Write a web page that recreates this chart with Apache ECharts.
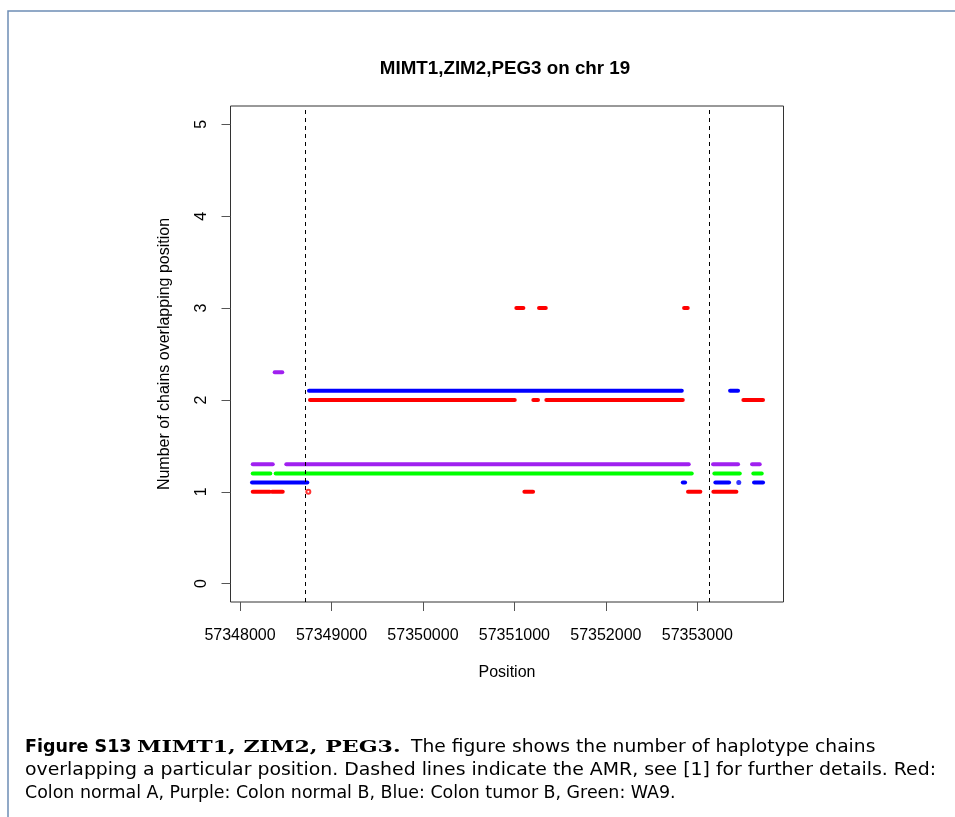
<!DOCTYPE html>
<html>
<head>
<meta charset="utf-8">
<script src="https://cdn.jsdelivr.net/npm/echarts@6/dist/echarts.min.js"></script>
<style>
  html, body { margin: 0; padding: 0; background: #fff; }
  #chart { width: 955px; height: 817px; }
</style>
</head>
<body>
<div id="chart"></div>
<script>
// segments: [start, end, level]
const redSegs = [
  [57348139, 57348325, 1.0], [57348350, 57348467, 1.0],
  [57348765, 57351004, 2.0], [57351207, 57351258, 2.0], [57351349, 57352841, 2.0],
  [57351021, 57351098, 3.0], [57351269, 57351343, 3.0], [57352855, 57352895, 3.0],
  [57351109, 57351204, 1.0],
  [57352898, 57353033, 1.0], [57353175, 57353427, 1.0],
  [57353503, 57353718, 2.0]
]
const purpleSegs = [
  [57348379, 57348462, 2.3],
  [57348139, 57348358, 1.3], [57348506, 57352906, 1.3],
  [57353172, 57353445, 1.3], [57353598, 57353682, 1.3]
]
const blueSegs = [
  [57348754, 57352830, 2.1],
  [57348131, 57348736, 1.1], [57352841, 57352866, 1.1],
  [57353197, 57353347, 1.1], [57353620, 57353718, 1.1],
  [57353358, 57353445, 2.1]
]
const greenSegs = [
  [57348139, 57348331, 1.2], [57348390, 57352939, 1.2],
  [57353186, 57353464, 1.2], [57353612, 57353704, 1.2]
]
// single isolated points
const redPoints = [[57348747, 1.0]]
const bluePoints = [[57353453, 1.1]]

const amrBounds = [57348717, 57353131]
const xTicks = [57348000, 57349000, 57350000, 57351000, 57352000, 57353000]
const yTicks = [0, 1, 2, 3, 4, 5]

const colors = { red: '#ff0000', purple: '#a020f0', blue: '#0000ff', green: '#00ff00' }

let myChart = echarts.init(document.getElementById('chart'))

const segSeries = (segs, color) => segs.map(s => ({
  type: 'line',
  data: [[s[0], s[2]], [s[1], s[2]]],
  showSymbol: false,
  silent: true,
  lineStyle: { color: color, width: 4, cap: 'round' }
}))

let series = []
series = series.concat(segSeries(redSegs, colors.red))
series = series.concat(segSeries(purpleSegs, colors.purple))
series = series.concat(segSeries(blueSegs, colors.blue))
series = series.concat(segSeries(greenSegs, colors.green))
series.push({
  type: 'scatter',
  data: redPoints,
  symbol: 'emptyCircle',
  symbolSize: 4,
  itemStyle: { color: colors.red, borderColor: colors.red, borderWidth: 1 }
})
series.push({
  type: 'scatter',
  data: bluePoints,
  symbolSize: 5,
  itemStyle: { color: colors.blue }
})
// dashed AMR lines
series.push({
  type: 'line',
  data: [],
  markLine: {
    silent: true,
    symbol: 'none',
    label: { show: false },
    lineStyle: { color: '#000', type: [4, 4], width: 1 },
    data: amrBounds.map(v => ({ xAxis: v }))
  }
})

const capY = 748
const capFont = '17px "DejaVu Sans", sans-serif'

let option = {
  animation: false,
  backgroundColor: '#fff',
  title: {
    text: 'MIMT1,ZIM2,PEG3 on chr 19',
    left: 500,
    top: 54,
    textAlign: 'center',
    textStyle: { fontFamily: 'Liberation Sans', fontWeight: 'bold', fontSize: 18.8, color: '#000' }
  },
  grid: {
    left: 230.5,
    top: 106,
    width: 553,
    height: 496,
    show: true,
    borderColor: '#333',
    borderWidth: 1,
    containLabel: false,
    outerBoundsMode: 'none'
  },
  xAxis: {
    type: 'value',
    min: 57347896,
    max: 57353942,
    name: 'Position',
    nameLocation: 'middle',
    nameGap: 63,
    nameTextStyle: { fontFamily: 'Liberation Sans', fontSize: 16, color: '#000' },
    axisLine: { show: false, onZero: false },
    splitLine: { show: false },
    axisTick: { show: true, customValues: xTicks, length: 9, lineStyle: { color: '#555' } },
    axisLabel: {
      customValues: xTicks,
      margin: 26,
      fontFamily: 'Liberation Sans',
      fontSize: 16,
      color: '#000',
      formatter: v => String(v)
    }
  },
  yAxis: {
    type: 'value',
    min: -0.2,
    max: 5.2,
    name: 'Number of chains overlapping position',
    nameLocation: 'middle',
    nameGap: 58,
    nameTextStyle: { fontFamily: 'Liberation Sans', fontSize: 16, color: '#000' },
    axisLine: { show: false, onZero: false },
    splitLine: { show: false },
    axisTick: { show: true, customValues: yTicks, length: 9, lineStyle: { color: '#555' } },
    axisLabel: {
      customValues: yTicks,
      rotate: 90,
      margin: 21,
      fontFamily: 'Liberation Sans',
      fontSize: 16,
      color: '#000'
    }
  },
  graphic: [
    {
      type: 'rect',
      silent: true,
      shape: { x: 8, y: 11, width: 1100, height: 900 },
      style: { fill: 'none', stroke: '#6d8db5', lineWidth: 1.5 }
    },
    {
      type: 'text', x: 25, y: capY, scaleX: 1.03,
      style: { text: 'Figure S13', verticalAlign: 'middle', font: 'bold 17px "DejaVu Sans", sans-serif', fill: '#000' }
    },
    {
      type: 'text', x: 137, y: capY, scaleX: 1.3,
      style: { text: 'MIMT1, ZIM2, PEG3.', verticalAlign: 'middle', font: 'bold 17px "DejaVu Serif", serif', fill: '#000' }
    },
    {
      type: 'text', x: 411, y: capY, scaleX: 1.1,
      style: { text: 'The figure shows the number of haplotype chains', verticalAlign: 'middle', font: capFont, fill: '#000' }
    },
    {
      type: 'text', x: 25, y: capY + 23, scaleX: 1.11,
      style: {
        text: 'overlapping a particular position. Dashed lines indicate the AMR, see [1] for further details. Red:',
        verticalAlign: 'middle', font: capFont, fill: '#000'
      }
    },
    {
      type: 'text', x: 25, y: capY + 46, scaleX: 1.025,
      style: {
        text: 'Colon normal A, Purple: Colon normal B, Blue: Colon tumor B, Green: WA9.',
        verticalAlign: 'middle', font: capFont, fill: '#000'
      }
    }
  ],
  series: series
}

myChart.setOption(option)
</script>
</body>
</html>
